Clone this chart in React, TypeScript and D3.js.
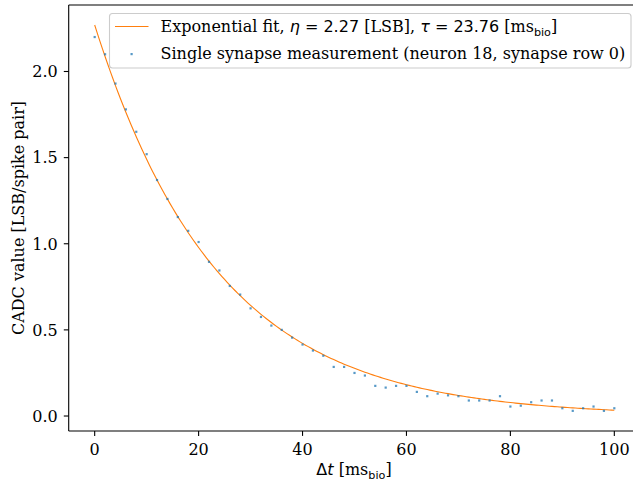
import React from "react";
import * as d3 from "d3";

const xValues: number[] = [0,2,4,6,8,10,12,14,16,18,20,22,24,26,28,30,32,34,36,38,40,42,44,46,48,50,52,54,56,58,60,62,64,66,68,70,72,74,76,78,80,82,84,86,88,90,92,94,96,98,100];
const yValues: number[] = [2.20,2.10,1.93,1.78,1.65,1.52,1.37,1.26,1.155,1.075,1.01,0.895,0.845,0.755,0.705,0.625,0.575,0.525,0.50,0.455,0.415,0.38,0.35,0.285,0.285,0.25,0.235,0.175,0.165,0.175,0.175,0.14,0.115,0.13,0.12,0.115,0.09,0.09,0.09,0.115,0.055,0.06,0.08,0.09,0.09,0.045,0.03,0.045,0.055,0.03,0.045];
const fitEta = 2.27;
const fitTau = 23.76;
const xTicks: number[] = [0, 20, 40, 60, 80, 100];
const yTicks: number[] = [0, 0.5, 1.0, 1.5, 2.0];

const W = 633, H = 484;
const L = 68.7, R = 640.3, T = 5, B = 431;
const SERIF = "DejaVu Serif";
const SANS = "DejaVu Sans";
const FS = 16;

export default function App() {
  const x = d3.scaleLinear().domain([-5, 105]).range([L, R]);
  const y = d3.scaleLinear().domain([-0.087, 2.386]).range([B, T]);
  const fitX = d3.range(0, 100.01, 0.5);
  const line = d3.line<number>().x(d => x(d)).y(d => y(fitEta * Math.exp(-d / fitTau)));
  const fmt = d3.format(".1f");
  return (
    <div style={{ position: "fixed", left: 0, top: 0 }}>
      <svg width={W} height={H} style={{ display: "block", background: "#fff" }}>
        <defs>
          <clipPath id="ax"><rect x={L} y={T} width={R - L} height={B - T} /></clipPath>
        </defs>
        <rect x={0} y={0} width={W} height={H} fill="#fff" />
        <g clipPath="url(#ax)">
          <path d={line(fitX) || ""} fill="none" stroke="#ff7f0e" strokeWidth={1.1} />
          {xValues.map((xv, i) => (
            <rect key={i} x={x(xv) - 1.1} y={y(yValues[i]) - 1.1} width={2.2} height={2.2} fill="#1f77b4" opacity={0.75} />
          ))}
        </g>
        <line x1={L} x2={L} y1={T} y2={B} stroke="#000" strokeWidth={1.1} />
        <line x1={L} x2={R} y1={B} y2={B} stroke="#000" strokeWidth={1.1} />
        <line x1={L} x2={R} y1={T} y2={T} stroke="#000" strokeWidth={1.1} />
        {xTicks.map(t => (
          <g key={t}>
            <line x1={x(t)} x2={x(t)} y1={B} y2={B + 4.9} stroke="#000" strokeWidth={1.1} />
            <text x={x(t)} y={B + 24} textAnchor="middle" fontFamily={SERIF} fontSize={FS}>{t}</text>
          </g>
        ))}
        {yTicks.map(t => (
          <g key={t}>
            <line x1={L} x2={L - 4.9} y1={y(t)} y2={y(t)} stroke="#000" strokeWidth={1.1} />
            <text x={L - 11} y={y(t) + 5.8} textAnchor="end" fontFamily={SERIF} fontSize={FS}>{fmt(t)}</text>
          </g>
        ))}
        <text x={354} y={475} textAnchor="middle" fontFamily={SERIF} fontSize={FS}>
          <tspan fontFamily={SANS}>Δ</tspan><tspan fontFamily={SANS} fontStyle="italic">t</tspan>
          <tspan> [ms</tspan><tspan fontFamily={SANS} fontSize={FS * 0.7} dy={3.5}>bio</tspan><tspan dy={-3.5}>]</tspan>
        </text>
        <text transform={`translate(24,${(T + B) / 2}) rotate(-90)`} textAnchor="middle" fontFamily={SERIF} fontSize={FS}>
          CADC value [LSB/spike pair]
        </text>
        <rect x={109.5} y={13.5} width={521.5} height={54.5} rx={3} fill="#fff" fillOpacity={0.8} stroke="#cccccc" strokeWidth={1.1} />
        <line x1={115} x2={148.5} y1={26.5} y2={26.5} stroke="#ff7f0e" strokeWidth={1.1} />
        <rect x={130.5} y={53} width={2.2} height={2.2} fill="#1f77b4" opacity={0.75} />
        <text x={160.5} y={32} fontFamily={SERIF} fontSize={FS}>
          <tspan>Exponential fit, </tspan>
          <tspan fontFamily={SANS} fontStyle="italic">η</tspan>
          <tspan fontFamily={SANS}> = 2.27</tspan>
          <tspan> [LSB], </tspan>
          <tspan fontFamily={SANS} fontStyle="italic">τ</tspan>
          <tspan fontFamily={SANS}> = 23.76</tspan>
          <tspan> [ms</tspan>
          <tspan fontFamily={SANS} fontSize={FS * 0.7} dy={3.5}>bio</tspan>
          <tspan dy={-3.5}>]</tspan>
        </text>
        <text x={160.5} y={59} fontFamily={SERIF} fontSize={FS}>
          Single synapse measurement (neuron 18, synapse row 0)
        </text>
      </svg>
    </div>
  );
}
